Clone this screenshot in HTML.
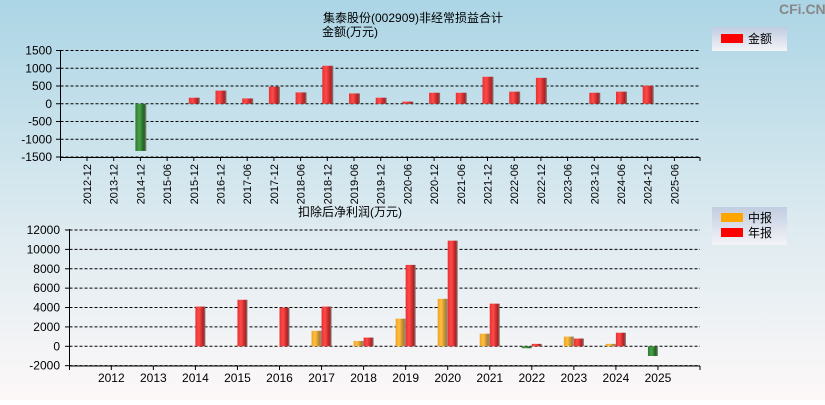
<!DOCTYPE html>
<html><head><meta charset="utf-8"><style>
html,body{margin:0;padding:0;}
body{width:825px;height:400px;overflow:hidden;font-family:"Liberation Sans","Noto Sans CJK SC",sans-serif;}
svg text{font-family:"Liberation Sans","Noto Sans CJK SC",sans-serif;}
</style></head><body>
<svg id="c" width="825" height="400" xmlns="http://www.w3.org/2000/svg">
<defs>
<linearGradient id="bg" x1="0" y1="0" x2="0" y2="1"><stop offset="0" stop-color="#acd5e5"/><stop offset="0.55" stop-color="#dceaf0"/><stop offset="1" stop-color="#fdf8f8"/></linearGradient>
<linearGradient id="gr" x1="0" x2="1"><stop offset="0" stop-color="#e83030"/><stop offset="0.35" stop-color="#ff4a4a"/><stop offset="0.8" stop-color="#b02020"/><stop offset="1" stop-color="#808080"/></linearGradient>
<linearGradient id="go" x1="0" x2="1"><stop offset="0" stop-color="#f0a020"/><stop offset="0.35" stop-color="#ffc040"/><stop offset="0.8" stop-color="#b08030"/><stop offset="1" stop-color="#909090"/></linearGradient>
<linearGradient id="gg" x1="0" x2="1"><stop offset="0" stop-color="#2a7a2a"/><stop offset="0.35" stop-color="#4aa04a"/><stop offset="0.8" stop-color="#1f5f1f"/><stop offset="1" stop-color="#909090"/></linearGradient>
<linearGradient id="lg" x1="0" y1="0" x2="0" y2="1"><stop offset="0" stop-color="#c0cce0"/><stop offset="1" stop-color="#f4f4f8"/></linearGradient>
</defs>
<rect width="825" height="400" fill="url(#bg)"/>
<text x="779" y="14" font-size="14" font-weight="bold" fill="#888">CFi.CN</text>
<text x="323" y="22" font-size="12" fill="#000">集泰股份(002909)非经常损益合计</text>
<text x="322" y="36" font-size="12" fill="#000">金额(万元)</text>
<text x="298" y="216" font-size="12" fill="#000">扣除后净利润(万元)</text>
<g>
<rect x="712" y="27" width="75" height="24" fill="url(#lg)"/>
<rect x="721" y="34" width="22" height="9" fill="#f00"/>
<text x="748" y="43" font-size="12">金额</text>
</g>
<g>
<rect x="712" y="207" width="75" height="38" fill="url(#lg)"/>
<rect x="721" y="213" width="22" height="9" fill="#ffa500"/>
<text x="748" y="222" font-size="12">中报</text>
<rect x="721" y="228" width="22" height="9" fill="#f00"/>
<text x="748" y="237" font-size="12">年报</text>
</g>
<g id="g1"></g><g id="g2"></g>
</svg>
<script>
const topCats=["2012-12","2013-12","2014-12","2015-06","2015-12","2016-12","2017-06","2017-12","2018-06","2018-12","2019-06","2019-12","2020-06","2020-12","2021-06","2021-12","2022-06","2022-12","2023-06","2023-12","2024-06","2024-12","2025-06"];
const topVals=[null,null,-1330,null,170,370,150,480,320,1070,290,170,60,310,310,760,340,730,null,310,340,510,null];
const topTicks=[1500,1000,500,0,-500,-1000,-1500];
const botCats=["2012","2013","2014","2015","2016","2017","2018","2019","2020","2021","2022","2023","2024","2025"];
const midVals=[null,null,null,null,null,1600,550,2850,4900,1300,-200,1000,250,-1000];
const annVals=[null,null,4100,4800,4000,4100,900,8400,10900,4400,250,800,1400,null];
const botTicks=[12000,10000,8000,6000,4000,2000,0,-2000];
const NS="http://www.w3.org/2000/svg";
function mk(p,t,a){const e=document.createElementNS(NS,t);for(const k in a)e.setAttribute(k,a[k]);p.appendChild(e);return e;}
// top chart
const g1=document.getElementById('g1');
const y1=v=>103.75-v*(53.25/1500);
const x1=i=>87+i*26.7;
topTicks.forEach(t=>{
  const l=mk(g1,'line',{x1:60.5,x2:700,y1:y1(t),y2:y1(t),stroke:'#000','stroke-dasharray':'3,2','stroke-width':1});
  
  
  const tx=mk(g1,'text',{x:52,y:y1(t)+4,'font-size':12,'text-anchor':'end',fill:'#000'});tx.textContent=t;
  
  
  mk(g1,'line',{x1:56,x2:60.5,y1:y1(t),y2:y1(t),stroke:'#000'});
});
mk(g1,'line',{x1:60.5,x2:60.5,y1:50,y2:161,stroke:'#000'});
mk(g1,'line',{x1:60.5,x2:700,y1:157.5,y2:157.5,stroke:'#000'});
mk(g1,'line',{x1:700,x2:700,y1:157.5,y2:161,stroke:'#000'});
topCats.forEach((c,i)=>{
  const x=x1(i);
  mk(g1,'line',{x1:x,x2:x,y1:157.5,y2:161,stroke:'#000'});
  const t=mk(g1,'text',{x:0,y:0,'font-size':11,'text-anchor':'end',transform:`translate(${x+4},164) rotate(-90)`});t.textContent=c;
  
  
  const v=topVals[i];
  if(v!==null){
    const y=Math.min(y1(v),y1(0)),h=Math.abs(y1(v)-y1(0));
    const b=mk(g1,'rect',{x:x-5,y:y,width:11,height:Math.max(h,1),fill:v<0?'url(#gg)':'url(#gr)'});
    
    
  }
});
// bottom chart
const g2=document.getElementById('g2');
const y2=v=>346.3-v*(116.3/12000);
const x2=i=>111.3+i*42.05;
botTicks.forEach(t=>{
  const l=mk(g2,'line',{x1:69.5,x2:700,y1:y2(t),y2:y2(t),stroke:'#000','stroke-dasharray':'3,2'});
  
  
  const tx=mk(g2,'text',{x:60,y:y2(t)+4,'font-size':12,'text-anchor':'end'});tx.textContent=t;
  
  
  mk(g2,'line',{x1:65,x2:69.5,y1:y2(t),y2:y2(t),stroke:'#000'});
});
mk(g2,'line',{x1:69.5,x2:69.5,y1:229,y2:370,stroke:'#000'});
mk(g2,'line',{x1:69.5,x2:700,y1:366,y2:366,stroke:'#000'});
mk(g2,'line',{x1:700,x2:700,y1:366,y2:370,stroke:'#000'});
botCats.forEach((c,i)=>{
  const x=x2(i);
  mk(g2,'line',{x1:x,x2:x,y1:366,y2:370,stroke:'#000'});
  const t=mk(g2,'text',{x:x,y:382,'font-size':12,'text-anchor':'middle'});t.textContent=c;
  
  
  const m=midVals[i];
  if(m!==null){
    const y=Math.min(y2(m),y2(0)),h=Math.abs(y2(m)-y2(0));
    const b=mk(g2,'rect',{x:x-10,y:y,width:10,height:Math.max(h,1),fill:m<0?'url(#gg)':'url(#go)'});
    
    
  }
  const a=annVals[i];
  if(a!==null){
    const y=Math.min(y2(a),y2(0)),h=Math.abs(y2(a)-y2(0));
    const b=mk(g2,'rect',{x:x,y:y,width:10,height:Math.max(h,1),fill:a<0?'url(#gg)':'url(#gr)'});
    
    
  }
});
</script>
</body></html>
